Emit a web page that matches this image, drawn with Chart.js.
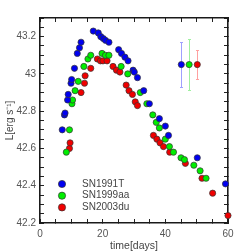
<!DOCTYPE html>
<html lang="en">
<head>
    <meta charset="UTF-8">
    <title>Light curves</title>
    <script src="https://cdn.jsdelivr.net/npm/chart.js"></script>
    <style>
        body { margin: 0; background: #fff; }
        #wrap { width: 252px; height: 252px; }
    </style>
</head>
<body>
    <div id="wrap"><canvas id="lc"></canvas></div>
    <script>
        // SN1991T
        const t91 = [7.1, 7.8, 8.0, 8.8, 9.0, 9.9, 10.1, 11.0, 11.9, 12.6, 13.1, 17.0, 18.6, 19.4, 20.2, 20.9, 22.0,
                     25.1, 26.0, 27.1, 28.1, 29.7, 30.1, 31.1, 33.1, 34.9, 38.1, 40.0, 41.0, 50.2, 59.2];
        const L91 = [42.70, 42.78, 42.79, 42.86, 42.89, 42.95, 42.97, 43.03, 43.11, 43.14, 43.17, 43.23, 43.22, 43.20, 43.19, 43.18, 43.17,
                     43.13, 43.11, 43.09, 43.07, 43.02, 43.01, 42.98, 42.91, 42.84, 42.76, 42.72, 42.67, 42.55, 42.41];
        // SN1999aa
        const t99 = [8.4, 9.4, 10.2, 10.4, 11.2, 12.2, 14.0, 15.3, 16.2, 19.8, 20.9, 22.0, 25.9, 28.0, 32.0, 34.1,
                     36.0, 37.1, 38.1, 40.0, 41.3, 42.6, 45.0, 46.1, 49.1, 51.1, 53.0];
        const L99 = [42.58, 42.70, 42.84, 42.86, 42.91, 42.96, 43.04, 43.08, 43.10, 43.11, 43.10, 43.10, 43.04, 43.00, 42.90, 42.84,
                     42.78, 42.74, 42.71, 42.65, 42.61, 42.58, 42.55, 42.54, 42.51, 42.48, 42.44];
        // SN2003du
        const t03 = [9.4, 9.6, 13.1, 14.2, 14.4, 16.2, 18.3, 19.3, 20.1, 21.4, 23.3, 24.4, 25.5, 27.5, 28.4, 29.5, 30.4, 31.1,
                     36.2, 37.3, 38.3, 39.4, 41.4, 46.4, 51.7, 55.1, 60.0];
        const L03 = [42.60, 42.63, 42.90, 42.95, 42.99, 43.03, 43.08, 43.07, 43.07, 43.07, 43.04, 43.02, 43.01, 42.94, 42.91, 42.89, 42.85, 42.83,
                     42.67, 42.65, 42.63, 42.61, 42.58, 42.52, 42.44, 42.36, 42.24];

        // typical error bars, one per object
        const errX = [45.1, 47.6, 50.2];
        const errY = [43.05, 43.05, 43.05];
        const errLo = [42.93, 42.915, 42.975];
        const errHi = [43.17, 43.19, 43.13];

        const names = ['SN1991T', 'SN1999aa', 'SN2003du'];
        const colors = ['#0000f0', '#00ee00', '#f00000'];
        const barColors = ['#a0a0ff', '#a0f0a0', '#ffa0a0'];

        const xy = (xs, ys) => xs.map((x, i) => ({x: x, y: ys[i]}));
        const series = [xy(t91, L91), xy(t99, L99), xy(t03, L03)];

        const datasets = series.map((d, i) => ({
            label: names[i],
            data: d,
            backgroundColor: colors[i],
            borderColor: '#333',
            borderWidth: 0.7,
            pointRadius: 3.1,
            clip: false
        }));
        errX.forEach((x, i) => {
            datasets.push({
                label: '',
                data: [{x: x, y: errY[i]}],
                backgroundColor: colors[i],
                borderColor: '#333',
                borderWidth: 0.7,
                pointRadius: 3.1
            });
        });

        const errorBars = {
            id: 'errorBars',
            beforeDatasetsDraw(chart) {
                const ctx = chart.ctx, xs = chart.scales.x, ys = chart.scales.y;
                ctx.save();
                errX.forEach((x, i) => {
                    const px = Math.round(xs.getPixelForValue(x));
                    const top = Math.round(ys.getPixelForValue(errHi[i]));
                    const bot = Math.round(ys.getPixelForValue(errLo[i]));
                    ctx.fillStyle = barColors[i];
                    ctx.fillRect(px, top, 1, bot - top + 1);
                    ctx.fillRect(px - 1, top, 3, 1);
                    ctx.fillRect(px - 1, bot, 3, 1);
                });
                ctx.restore();
            }
        };

        const markerLegend = {
            id: 'markerLegend',
            afterDraw(chart) {
                const ctx = chart.ctx, a = chart.chartArea;
                ctx.save();
                ctx.font = '10px "Liberation Sans", Arial, sans-serif';
                ctx.textBaseline = 'middle';
                names.forEach((n, i) => {
                    const cy = a.bottom - 39 + i * 11.7;
                    const cx = a.left + 22;
                    ctx.beginPath();
                    ctx.arc(cx, cy, 3.6, 0, Math.PI * 2);
                    ctx.fillStyle = colors[i];
                    ctx.fill();
                    ctx.lineWidth = 0.7;
                    ctx.strokeStyle = '#333';
                    ctx.stroke();
                    ctx.fillStyle = '#444';
                    ctx.fillText(n, a.left + 42, cy);
                });
                ctx.restore();
            }
        };

        const font = {family: '"Liberation Sans", Arial, sans-serif', size: 10};
        // inward tick marks, no grid inside the plot
        const inGrid = {display: true, drawOnChartArea: false, drawTicks: true, tickLength: -4, tickColor: '#222', tickWidth: 1};
        const frameBorder = {display: true, color: '#1a1a1a', width: 1.6};

        new Chart(document.getElementById('lc'), {
            type: 'scatter',
            data: {datasets: datasets},
            options: {
                responsive: true,
                maintainAspectRatio: false,
                animation: false,
                layout: {padding: {top: 18, right: 24, left: 0, bottom: 0}},
                plugins: {legend: {display: false}, tooltip: {enabled: false}},
                scales: {
                    x: {
                        position: 'bottom',
                        min: 0, max: 60,
                        grid: inGrid,
                        border: frameBorder,
                        ticks: {
                            stepSize: 5, padding: 9, color: '#555', font: font, maxRotation: 0, autoSkip: false,
                            callback: v => v % 20 === 0 ? String(v) : ''
                        },
                        title: {display: true, text: 'time[days]', color: '#444', font: {family: font.family, size: 10.5}, padding: {top: 0, bottom: 0}},
                        afterFit(s) { s.height = 29; }
                    },
                    x2: {
                        position: 'top',
                        min: 0, max: 60,
                        grid: inGrid,
                        border: frameBorder,
                        ticks: {stepSize: 5, display: false, autoSkip: false},
                        afterFit(s) { s.height = 0; }
                    },
                    y: {
                        position: 'left',
                        min: 42.2, max: 43.3,
                        grid: inGrid,
                        border: frameBorder,
                        ticks: {
                            stepSize: 0.05, padding: 8, color: '#555', font: font, autoSkip: false,
                            callback: v => Math.abs(v * 5 - Math.round(v * 5)) < 1e-6 ? String(+v.toFixed(1)) : ''
                        },
                        title: {display: true, text: 'L[erg s⁻¹]', color: '#444', font: font, padding: {top: 4, bottom: 0}},
                        afterFit(s) { s.width = 40; }
                    },
                    y2: {
                        position: 'right',
                        min: 42.2, max: 43.3,
                        grid: inGrid,
                        border: frameBorder,
                        ticks: {stepSize: 0.05, display: false, autoSkip: false},
                        afterFit(s) { s.width = 0; }
                    }
                }
            },
            plugins: [errorBars, markerLegend]
        });
    </script>
</body>
</html>
